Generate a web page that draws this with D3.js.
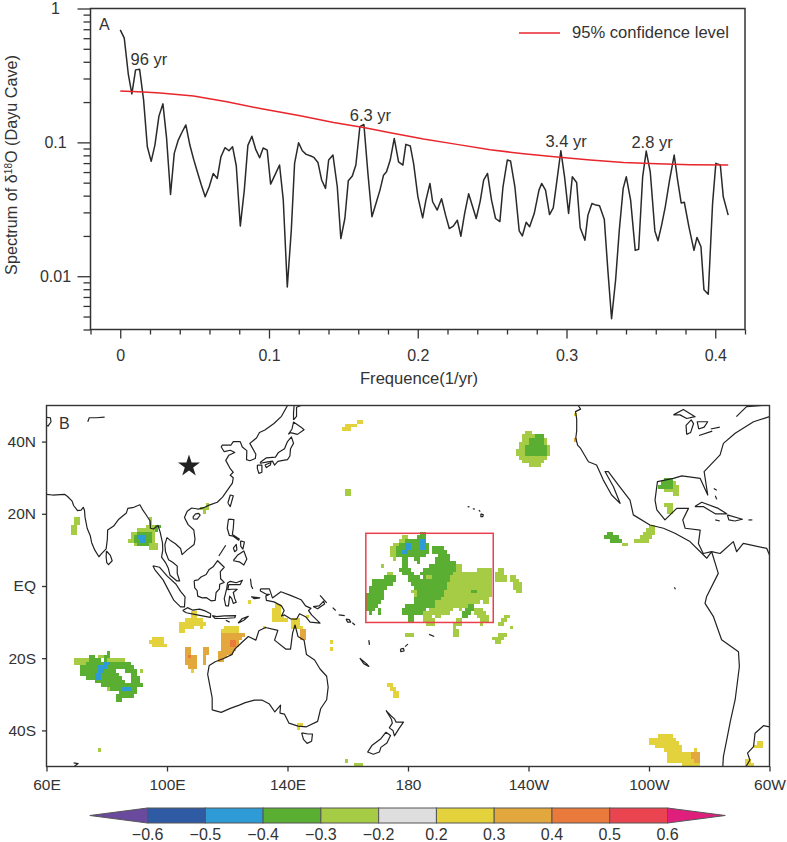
<!DOCTYPE html>
<html>
<head>
<meta charset="utf-8">
<script src="https://cdn.jsdelivr.net/npm/d3@7"></script>
<style>
  html, body { margin: 0; padding: 0; background: #fff; }
  text { font-family: "Liberation Sans", Arial, sans-serif; fill: #333; }
</style>
</head>
<body>
<svg id="chart" width="787" height="842"></svg>
<script>
// ---- panel A data ----
const freqs = [0,.0027,.0054,.0078,.0103,.0130,.0157,.0182,.0208,.0233,.0260,.0287,.0311,.0338,.0363,.0390,.0415,.0441,.0468,.0493,
  .0518,.0545,.0571,.0598,.0625,.0652,.0677,.0704,.0731,.0755,.0780,.0807,.0834,.0858,.0885,.0910,.0937,.0961,.0988,.1011,
  .1042,.1071,.1096,.1123,.1150,.1172,.1199,.1224,.1250,.1277,.1302,.1329,.1354,.1380,.1401,.1430,.1459,.1483,.1510,.1533,
  .1560,.1584,.1611,.1638,.1665,.1692,.1719,.1746,.1770,.1790,.1815,.1842,.1871,.1900,.1920,.1950,.1972,.2001,.2033,.2055,
  .2082,.2100,.2131,.2160,.2187,.2212,.2239,.2266,.2290,.2315,.2342,.2369,.2393,.2420,.2443,.2469,.2496,.2523,.2552,.2573,
  .2602,.2624,.2653,.2682,.2703,.2729,.2752,.2783,.2815,.2833,.2859,.2886,.2911,.2936,.2962,.2987,.3014,.3039,.3068,.3092,
  .3124,.3144,.3171,.3198,.3222,.3254,.3278,.3303,.3330,.3355,.3381,.3402,.3431,.3462,.3485,.3512,.3536,.3563,.3594,.3615,
  .3639,.3664,.3693,.3724,.3747,.3771,.3792,.3823,.3857,.3877,.3904,.3924,.3953,.3982,.4004,.4034,.4054,.4087];
const spectrum = [.692,.600,.324,.230,.348,.352,.207,.0928,.0721,.0955,.157,.194,.109,.0408,.0827,.104,.119,.135,.0955,.0750,
  .0603,.0480,.0392,.0466,.0586,.0538,.0781,.0912,.0866,.0928,.0669,.0237,.0440,.0950,.111,.0891,.0768,.0907,.0876,.0488,
  .0576,.0677,.0370,.00832,.0221,.0697,.0994,.0866,.0813,.0795,.0772,.0708,.0523,.0453,.0738,.0804,.0466,.0191,.0270,.0516,
  .0560,.0677,.131,.136,.0586,.0278,.0349,.0440,.0569,.0603,.0738,.107,.0716,.0677,.0966,.0939,.0697,.0392,.0273,.0370,
  .0493,.0360,.0312,.0379,.0286,.0227,.0237,.0262,.0199,.0294,.0413,.0330,.0270,.0364,.0523,.0586,.0370,.0270,.0256,.0466,
  .0738,.0725,.0466,.0218,.0200,.0253,.0234,.0294,.0440,.0493,.0440,.0289,.0324,.0523,.0866,.0553,.0294,.0553,.0502,.0230,
  .0186,.0286,.0349,.0340,.0336,.0267,.0111,.00482,.00933,.0221,.0453,.0553,.0370,.0156,.0159,.0553,.0861,.0603,.0218,.0184,
  .0240,.0330,.0523,.0804,.0523,.0353,.0357,.0234,.0156,.0195,.0166,.00794,.00733,.0349,.0697,.0677,.0392,.0286];
const confFreqs = [0,.0157,.0269,.0493,.0717,.0941,.1210,.1434,.1636,.1815,.2039,.2263,.2487,.2711,.2936,.3160,.3384,.3608,.3832,.4087];
const confLevel = [.242,.238,.234,.222,.201,.179,.158,.141,.129,.118,.106,.0966,.0881,.0822,.0776,.0738,.0708,.0692,.0681,.0677];

const freqMajor = [0, 0.1, 0.2, 0.3, 0.4];
const freqMinor = [-0.02,0.02,0.04,0.06,0.08,0.12,0.14,0.16,0.18,0.22,0.24,0.26,0.28,0.32,0.34,0.36,0.38,0.42];
const specMajor = [1, 0.1, 0.01];
const specMinor = [.9,.8,.7,.6,.5,.4,.3,.2,.09,.08,.07,.06,.05,.04,.03,.02,.009,.008,.007,.006,.005,.004];
const peakLabels = ["96 yr", "6.3 yr", "3.4 yr", "2.8 yr"];
const peakFreq = [.0193, .1682, .2997, .3575];
const peakPower = [.378, .144, .092, .0905];

// ---- panel B data: shaded cells as [top latitude, west lon, east lon], lon in degrees east ----
const lightCells = [
  [14,178,180],[13,177,180],[12,175,177],[11,174,176],[10,174,176],[9,174,176],[8,175,176],[6,171,172],[6,196,198],[5,196,198],[5,203,208],[5,210,212],
  [4,173,175],[4,195,208],[4,209,212],[3,186,188],[3,193,208],[3,209,213],[3,214,216],[2,192,208],[2,209,213],[2,214,217],[1,192,208],[1,215,218],
  [0,192,208],[0,215,218],[-1,181,183],[-1,192,208],[-1,216,218],[-2,182,183],[-2,192,208],[-3,191,207],[-4,189,204],[-4,205,207],[-5,188,197],[-5,197,202],
  [-6,187,195],[-6,197,198],[-6,202,205],[-7,185,194],[-7,202,206],[-8,185,188],[-8,189,191],[-8,203,207],[-8,212,214],[-9,185,189],[-9,196,198],[-9,204,207],[-9,211,213],
  [-10,186,189],[-10,195,198],[-10,204,205],[-10,210,212],[-11,195,196],[-11,214,215],[-12,195,197],[-13,195,197],[-13,179,182],[-13,210,213],[-14,208,212],[-15,209,211],
  [27,159,161],[26,159,161],
  [43,219,221],[42,218,225],[41,218,226],[40,217,226],[39,217,227],[38,216,227],[37,216,227],[36,217,226],[35,218,225],[34,220,224],
  [19,69,71],[18,69,71],[17,68,70],[16,68,70],[15,68,70],
  [19,94,95],[18,94,95],[17,93,98],[16,90,97],[15,88,96],[14,88,96],[13,87,96],[12,89,97],[11,94,97],
  [23,113,114],[22,111,114],[21,112,113],
  [-19,77,79],[-20,69,74],[-20,80,86],[-21,69,73],[-23,91,92],[-28,80,81],[-45,77,78],
  [-48,159,160],[-49,162,165],
  [29,268,269],[28,268,270],[27,265,270],[26,268,270],[23,265,268],[22,266,268],[21,266,268],
  [17,260,262],[16,259,262],[15,258,262],[14,257,261],[13,255,260],[12,251,253]
];
const greenCells = [
  [15,184,186],[14,183,186],[13,179,186],[12,177,187],[11,176,187],[11,188,192],[10,176,187],[10,188,193],[9,176,186],[9,190,194],
  [8,178,180],[8,182,184],[8,189,194],[7,178,180],[7,183,184],[7,189,196],[6,178,180],[6,187,196],[5,177,181],[5,185,196],
  [4,178,182],[4,184,195],[3,172,176],[3,180,184],[3,185,186],[3,188,194],[2,168,176],[2,180,194],[1,168,175],[1,181,193],
  [0,167,173],[0,182,193],[-1,167,172],[-1,183,192],[-1,201,203],[-2,166,172],[-2,183,192],[-3,166,172],[-3,182,191],[-4,166,171],[-4,182,189],
  [-5,166,170],[-5,179,189],[-5,200,202],[-6,166,169],[-6,170,171],[-6,178,186],[-6,199,202],[-7,167,168],[-7,170,171],[-7,178,185],[-7,198,201],[-8,180,182],[-8,198,200],[-9,180,182],
  [42,222,225],[41,220,225],[40,220,225],[39,219,226],[38,219,226],[37,219,226],
  [17,96,98],[16,96,97],[15,90,95],[14,89,95],[13,89,95],[12,90,94],
  [-18,80,81],[-19,74,76],[-19,79,81],[-20,74,78],[-20,79,80],[-21,73,88],[-22,71,89],[-23,71,83],[-23,86,90],[-24,71,84],[-24,88,90],
  [-25,73,85],[-25,88,91],[-26,76,86],[-26,88,91],[-27,78,92],[-28,81,90],[-29,84,90],[-30,83,89],[-31,83,85],
  [30,265,268],[29,264,268],[28,263,268],[15,246,248],[14,245,250],[13,247,251]
];
const blueCells = [
  [13,184,186],[12,179,181],[12,184,186],[11,179,181],[11,184,186],[10,178,180],
  [14,90,93],[13,91,93],
  [-21,79,81],[-22,77,80],[-23,77,79],[-24,76,78],[-25,76,78],[-28,85,88]
];
const yellowCells = [
  [46,163,165],[45,159,163],[44,158,161],
  [-14,95,99],[-15,94,99],[-16,95,100],[-23,108,109],
  [-7,108,110],[-8,108,110],[-9,106,112],[-10,104,113],[-11,104,109],[-11,111,112],[-12,104,106],
  [-11,119,124],[-12,118,124],
  [-5,136,138],[-6,135,138],[-7,135,138],[-8,135,139],[-9,135,140],
  [-9,141,144],[-10,141,144],[-11,141,145],
  [-15,154,155],[-17,154,155],[-4,127,128],[-11,132,133],[-8,146,147],
  [-27,173,175],[-28,174,176],[-29,175,177],[-30,175,177],[-38,143,145],[-39,143,144],
  [48,235,236],
  [-41,263,268],[-42,260,269],[-43,260,270],[-44,262,271],[-45,265,271],[-45,275,276],[-46,266,277],[-47,266,277],[-48,266,277],[-49,271,277],
  [-43,296,298],[-44,295,298],[-48,292,294],[-49,292,295]
];
const amberCells = [
  [-17,106,108],[-18,106,108],[-19,106,110],[-20,106,110],[-21,106,110],[-22,107,110],
  [-17,112,114],[-18,112,114],[-19,112,113],[-20,112,113],[-21,112,113],
  [-13,118,126],[-14,118,125],[-15,118,124],[-16,118,124],[-17,118,123],[-18,117,122],[-19,117,120],[-20,117,119],
  [-12,144,146],[-13,144,146],[-14,144,146],
  [41,235,236],[-46,274,277],[-47,274,277],[-48,275,277]
];
const orangeCells = [[-19,107,108],[-15,121,123],[-16,121,123]];

const boxLon = [166, 208.3];
const boxLat = [14.6, -10.1];
const starLon = 107.3;
const starLat = 33.2;

// coastlines traced as [lon, lat]
const coastLines = [
  // Asia
  [[60,25.4],[62,25.2],[66,25.4],[67,24.8],[68.5,23.5],[69,22.3],[70.3,20.9],[71.5,21],[72.2,21.8],[72.6,21],[72.8,19],[73.5,16],[74.5,14],[75,12],[76,10],[77.4,8.1],[78.2,8.9],[79.8,10.3],[80.2,13],[80.3,15.5],[82.3,16.6],[84,18.5],[86.5,20.2],[87,21.5],[89,21.8],[91,22.5],[92,21],[93,19.8],[94.4,18],[94.5,16],[95.5,15.8],[97,16.8],[97.7,15],[98.5,12],[98.6,10],[98.2,8],[99.5,6.5],[100.4,5],[101,3],[103.3,1.4],[104.2,1.4],[103.4,3.5],[103.4,5.5],[102,6.5],[100.5,7.3],[99.5,9.5],[99.3,11.5],[100,13.4],[101,12.7],[102.8,11.7],[104.5,10.4],[105,8.7],[106.7,10],[109,11.5],[109.3,13],[108.9,15.5],[107,17],[105.8,19],[106.7,20.7],[108.2,21.6],[109.7,21.4],[110.4,21.3],[112.5,21.8],[114,22.4],[116.7,23.2],[118.5,24.7],[120,26.5],[121.7,28.5],[122,30],[121,30.7],[122,31.5],[121,32.5],[119.5,34.8],[120.5,36.2],[122.5,37],[121,37.6],[119,37.2],[118,38.5],[118.3,39],[121.2,39],[122,40],[124.3,40],[125,38.5],[126.5,37.5],[126.4,35],[127.5,34.7],[129.3,35.3],[129.5,36.5],[127.5,39.5],[129.7,41],[130.7,42.5],[132.5,43.2],[135.5,45],[138,47],[140,50]],
  [[60,46.7],[61.3,46.6],[61.5,45.5],[60.5,44.3],[60,44.5]],
  [[73.7,45.5],[74.2,46.6],[76.5,46.6],[79.3,46.8]],
  [[79.9,9.7],[81.2,8.5],[81.8,7],[80.6,5.9],[80,6.5],[79.8,8],[79.9,9.7]],
  [[108.7,18.6],[110,18.5],[111,19.6],[110.5,20.1],[109.5,20],[108.7,19.2],[108.7,18.6]],
  [[120.2,23],[121,25.2],[122,25],[121,22],[120.2,23]],
  // Japan, Sakhalin
  [[131,34.3],[133,35.5],[136,35.7],[137,37],[139,38],[140,40],[141.3,41.3],[142,39.5],[141,38],[140.8,36],[140,35],[138.5,34.8],[136.8,34.5],[135.7,33.5],[135,34.6],[133,34.3],[131,34],[131,34.3]],
  [[130,33.5],[131.5,33.5],[131.5,31.5],[130.5,31.2],[130,32.5],[130,33.5]],
  [[132.5,33.5],[134.5,34.2],[134.3,33.5],[133,32.8],[132.5,33.5]],
  [[140.3,42],[141.5,43.5],[142,45.4],[144.5,44],[145.5,43.3],[143.3,42],[141,42.5],[140.3,42]],
  [[142,46],[143,47],[143,49.5],[144.5,50],[142.2,50],[142,48],[142,46]],
  // Indonesia, Philippines
  [[95.3,5.6],[97.5,5.2],[100,2.8],[103,0.5],[104.5,-1.5],[106,-3],[105.8,-5.8],[104.5,-5.8],[102.3,-4],[100.4,-1],[98.7,1.7],[96,4.5],[95.3,5.6]],
  [[105.2,-6.8],[106.8,-6],[108.6,-6.7],[110.8,-6.4],[112.7,-6.9],[114.5,-7.7],[114.4,-8.7],[110,-8],[106.4,-7.4],[105.2,-6.8]],
  [[115,-8.2],[116.5,-8.5],[119,-8.3],[122.8,-8.2],[122.5,-8.8],[119,-9],[116,-9],[115,-8.2]],
  [[123.6,-10.3],[125,-9],[127,-8.4],[125.5,-9.5],[123.6,-10.3]],
  [[119.5,-9.5],[120.8,-10]],
  [[109,1.5],[110.3,1.7],[111.3,2.5],[113,3.2],[114,4.6],[115.3,5.3],[116.8,7],[119,5.2],[117.7,4],[117.8,2],[119,1],[117.5,0.5],[117.4,-0.8],[116.3,-1.8],[116,-4],[114.6,-4.1],[113,-3.2],[111.7,-3.3],[110.2,-2.8],[110,-1.3],[109.2,-0.5],[109,1.5]],
  [[119.5,-5.5],[119,-3.5],[119.8,-0.8],[120.1,0.8],[121,1.3],[123,0.9],[125,1.6],[124.3,0.4],[120.5,0.4],[120.2,-1],[121.5,-0.9],[123.3,-0.9],[122,-1.8],[122.5,-3.5],[123,-4.5],[122,-4.8],[121.5,-3.5],[120.8,-2.8],[120.4,-5.5],[119.5,-5.5]],
  [[120.4,18.5],[122.2,18.4],[122,16],[121.7,14.3],[124,13],[123.8,12.7],[122,13.8],[120.7,14],[120,16],[120.4,18.5]],
  [[122,7],[123.5,8.6],[125.5,9.7],[126.5,7.5],[125.5,5.8],[124,6.7],[122,7]],
  [[122,10.5],[123,11.5],[123.2,10],[122.5,9.5],[122,10.5]],
  [[124.4,12.5],[125.7,12.2],[125.2,10.2],[124.5,11],[124.4,12.5]],
  [[117.2,8.3],[119.5,11.3]],
  [[127.7,2],[128,0],[128.5,-0.8]],
  [[128,-3],[130.8,-3.3],[129,-3.5],[128,-3]],
  // New Guinea and the Pacific islands
  [[131,-0.8],[134,-0.8],[135,-3.3],[137.8,-1.6],[141,-2.6],[144.5,-3.8],[146,-5.5],[147.8,-6.2],[147,-6.8],[148,-8],[150.8,-10.3],[147.5,-10],[146,-8.5],[144,-7.7],[143,-9.2],[141,-9.1],[139,-8],[138,-8.3],[138.9,-6.8],[138,-5.5],[135.5,-4.4],[133,-4],[132.8,-2.8],[134,-2.3],[133,-2.3],[131,-1.4],[131,-0.8]],
  [[148.5,-5.7],[150.5,-5.5],[152,-4.2],[152.3,-5],[150,-6.3],[148.5,-5.7]],
  [[150.8,-2.6],[153,-4.7]],
  [[155,-6],[156,-6.8]],[[157,-8],[159,-8.2]],
  [[159.4,-9.2],[160.5,-9.3],[161,-10],[160,-10],[159.4,-9.2]],[[161.5,-10.2],[162.4,-10.8]],
  [[167,-15],[167.2,-16.3]],
  [[164,-20],[166.2,-21.5],[167,-22.3],[165.3,-21.5],[164,-20]],
  [[177.5,-17.5],[178.5,-17.3],[178.7,-18],[177.6,-18.2],[177.5,-17.5]],[[179,-16.8],[180,-16.1]],
  [[187,-13.4],[188.7,-14]],
  [[199.8,22],[200.4,21.9]],[[201.5,21.4],[202.2,21.3]],[[203.5,21],[204,20.6]],[[204.2,20],[205,19.7],[204.8,19.2],[204.2,19.2],[204.2,20]],
  // Australia, New Zealand
  [[114,-22],[113.5,-24.5],[115,-31],[115,-34.3],[118,-35],[121,-33.9],[124,-33],[126,-32.3],[129,-31.6],[131.5,-31.6],[134,-32.7],[135.8,-34.9],[137.7,-33],[137.5,-35.2],[139,-35.5],[140.5,-38],[143.5,-38.8],[146.3,-39],[150,-37.5],[151,-34],[153,-31.5],[153.5,-28],[153,-25],[150.8,-23],[149,-20.5],[146.3,-19],[145.5,-15],[143.5,-14],[142.5,-10.8],[141.7,-13],[141,-17.5],[139.5,-17.5],[135.7,-15],[136.8,-12.3],[132.7,-11.5],[130.5,-12.4],[129.5,-15],[127,-14],[125,-15.5],[122.5,-17.5],[121.5,-19],[119,-20],[116,-21],[114,-22]],
  [[144.7,-40.7],[146.8,-41],[148.3,-41],[148,-43],[146.5,-43.6],[145.3,-42.5],[144.7,-40.7]],
  [[172.7,-34.5],[174.4,-36],[175.5,-36.8],[176,-37.7],[178.5,-37.7],[177,-39.5],[175.5,-41.5],[175,-40],[173.8,-39.3],[174.8,-38],[174.5,-36.9],[172.7,-34.5]],
  [[172.7,-40.5],[174.2,-41.4],[173,-43.5],[171,-44.7],[170.5,-46],[168.5,-46.6],[166.6,-46],[168,-44.2],[171,-42.3],[172.7,-40.5]],
  [[69,-49],[70.5,-49.2],[69.5,-49.8],[69.2,-50]],
  // Americas
  [[236.5,50],[237.3,49],[235.6,48.3],[236,46.2],[236,43],[235.7,41],[236.3,39],[237.3,38.1],[239.9,34.4],[242.6,33.5],[244.8,29.4],[247.6,25.2],[250.4,22.9],[248.2,27.5],[245.4,31.7],[246.5,31.7],[249.8,28],[253.7,23.8],[254.8,19.7],[260.3,16.9],[264.8,16],[268.6,14.6],[273.6,12.3],[279.2,7.7],[280.8,9.5],[283,3.5],[279.1,-3],[278.6,-4.8],[281.4,-8.5],[284.1,-14.9],[289.7,-18.2],[290,-22.3],[288.6,-31.5],[287,-37.5],[285.8,-42.6],[284.7,-47.2],[284.5,-50]],
  [[300,-39],[298,-38.7],[295.2,-40.8],[294.7,-44.5],[292.7,-46.3],[293.5,-48.2],[292.2,-50]],
  [[280.8,9.5],[278,9],[276.4,11.8],[277,15.5],[272,16],[271.2,18.3],[273.1,21.5],[269.2,21.5],[265.3,18.3],[262.6,21.1],[262,23.8],[262.8,28.9],[268.1,29.8],[270.9,30.5],[277,29.8],[279.5,25.2],[278.3,31.7],[283.6,36.3],[284.7,39.5],[288.6,42.3],[294.7,45.5],[300,46.9]],
  [[289,46.9],[292.4,49.7],[297.7,50]],
  [[280.8,9.5],[283.6,9],[288,12.3],[289.1,9.5],[291.3,11.8],[299.1,10.4],[300,8.6]],
  [[268.1,47.4],[271.4,48.9],[275.3,46.9],[272.5,46.4],[270.3,47.4],[268.1,47.4]],
  [[272.5,42],[272.3,44.5],[274,46],[274.8,45],[273.8,42.5],[272.5,42]],
  [[276.5,43.5],[276,45.5],[279.5,45.5],[278.3,44],[276.5,43.5]],
  [[276.6,41.7],[281,42.9]],[[280.5,43.5],[283.5,44]],
  [[275.2,22],[277.5,23.2],[283,21.5],[285.8,20],[282,20],[278,22],[275.2,22]],
  [[286,19.7],[291,18.5],[288.5,18],[286.5,18.3],[286,19.7]],
  [[282,18.3],[283.5,18]],[[293,18.3],[294.3,18.3]],
  [[281.5,27],[282.5,26.5]],[[282,25],[282.5,24]],[[268.4,-0.4],[268.8,-0.9]]
];

const lonTicks = [60, 100, 140, 180, 220, 260, 300];
const lonLabels = ["60E", "100E", "140E", "180", "140W", "100W", "60W"];
const latTicks = [40, 20, 0, -20, -40];
const latLabels = ["40N", "20N", "EQ", "20S", "40S"];

// ---- colour bar ----
const breaks = [-0.6, -0.5, -0.4, -0.3, -0.2, 0.2, 0.3, 0.4, 0.5, 0.6];
const barColors = ["#2f5aa4", "#2e9ad6", "#5aaf32", "#a6cc46", "#dedede", "#e3d23c", "#e2a83e", "#ea7a3c", "#ea4450"];
const lowColor = "#6a4a9c";
const highColor = "#e01f7d";

const svg = d3.select("#chart");
const darkLine = "#333";

// ===== panel A =====
const xA = d3.scaleLinear().domain([-0.02, 0.42]).range([90.5, 745]);
const yA = d3.scaleLog().domain([0.004, 1]).range([329.5, 8.5]);

const pA = svg.append("g");
const line = d3.line().x(d => xA(d[0])).y(d => yA(d[1]));

pA.append("path")
  .datum(d3.zip(freqs, spectrum))
  .attr("d", line)
  .attr("fill", "none")
  .attr("stroke", "#2a2a2a")
  .attr("stroke-width", 1.5)
  .attr("stroke-linejoin", "round");

pA.append("path")
  .datum(d3.zip(confFreqs, confLevel))
  .attr("d", line)
  .attr("fill", "none")
  .attr("stroke", "#e8262c")
  .attr("stroke-width", 1.5);

pA.append("rect")
  .attr("x", xA.range()[0]).attr("y", yA.range()[1])
  .attr("width", xA.range()[1] - xA.range()[0])
  .attr("height", yA.range()[0] - yA.range()[1])
  .attr("fill", "none").attr("stroke", darkLine).attr("stroke-width", 1.5);

function styleAxis(g, size) {
  g.select(".domain").remove();
  g.selectAll("line").attr("stroke", darkLine).attr("stroke-width", 1.3);
  g.selectAll("text").attr("fill", "#333").style("font-size", (size || 16) + "px").attr("font-family", null);
}

pA.append("g").attr("transform", `translate(0,${yA.range()[0]})`)
  .call(d3.axisBottom(xA).tickValues(freqMinor).tickSize(5).tickFormat(""))
  .call(styleAxis);
pA.append("g").attr("transform", `translate(0,${yA.range()[0]})`)
  .call(d3.axisBottom(xA).tickValues(freqMajor).tickSize(9).tickPadding(11).tickFormat(d => d === 0 ? "0" : d3.format(".1f")(d)))
  .call(styleAxis);
pA.append("g").attr("transform", `translate(${xA.range()[0]},0)`)
  .call(d3.axisLeft(yA).tickValues(specMinor).tickSize(7).tickFormat(""))
  .call(styleAxis);
pA.append("g").attr("transform", `translate(${xA.range()[0]},0)`)
  .call(d3.axisLeft(yA).tickValues(specMajor).tickSize(13).tickFormat(d => String(d)))
  .call(styleAxis)
  .call(g => g.selectAll("text").attr("text-anchor", "middle").attr("x", -35));

pA.append("text").attr("x", 99).attr("y", 30).style("font-size", "16px").text("A");

pA.selectAll(".peak")
  .data(peakLabels)
  .enter()
  .append("text")
  .attr("class", "peak")
  .attr("x", (d, i) => xA(peakFreq[i]))
  .attr("y", (d, i) => yA(peakPower[i]))
  .attr("text-anchor", "middle")
  .style("font-size", "16.5px")
  .text(d => d);

pA.append("line")
  .attr("x1", 519).attr("x2", 560).attr("y1", 33).attr("y2", 33)
  .attr("stroke", "#e8262c").attr("stroke-width", 1.5);
pA.append("text").attr("x", 572).attr("y", 37.5).style("font-size", "16.6px").text("95% confidence level");

pA.append("text").attr("x", 419).attr("y", 384).attr("text-anchor", "middle").style("font-size", "16.6px").text("Frequence(1/yr)");

const yTitle = pA.append("text")
  .attr("transform", "translate(16.5,165) rotate(-90)")
  .attr("text-anchor", "middle")
  .style("font-size", "16.2px");
yTitle.append("tspan").text("Spectrum of δ");
yTitle.append("tspan").attr("dy", -5).style("font-size", "10px").text("18");
yTitle.append("tspan").attr("dy", 5).text("O (Dayu Cave)");

// ===== panel B =====
const xB = d3.scaleLinear().domain([60, 300]).range([46.5, 769.5]);
const yB = d3.scaleLinear().domain([-50, 50]).range([766.5, 405.5]);

svg.append("defs").append("clipPath").attr("id", "mapClip")
  .append("rect")
  .attr("x", xB(60)).attr("y", yB(50))
  .attr("width", xB(300) - xB(60))
  .attr("height", yB(-50) - yB(50));

const map = svg.append("g");
const cellsG = map.append("g").attr("clip-path", "url(#mapClip)").attr("shape-rendering", "crispEdges");

function drawCells(cells, color) {
  cellsG.append("g")
    .selectAll("rect")
    .data(cells)
    .enter()
    .append("rect")
    .attr("x", d => xB(d[1]))
    .attr("y", d => yB(d[0]))
    .attr("width", d => xB(d[2]) - xB(d[1]))
    .attr("height", d => yB(d[0] - 1) - yB(d[0]))
    .attr("fill", color);
}
drawCells(lightCells, barColors[3]);
drawCells(yellowCells, barColors[5]);
drawCells(amberCells, barColors[6]);
drawCells(orangeCells, barColors[7]);
drawCells(greenCells, barColors[2]);
drawCells(blueCells, barColors[1]);

const coastPath = d3.line().x(d => xB(d[0])).y(d => yB(d[1]));
map.append("g").attr("clip-path", "url(#mapClip)")
  .selectAll("path")
  .data(coastLines)
  .enter()
  .append("path")
  .attr("d", coastPath)
  .attr("fill", "none")
  .attr("stroke", "#222")
  .attr("stroke-width", 1.2)
  .attr("stroke-linejoin", "round");

map.append("rect")
  .attr("x", xB(boxLon[0])).attr("y", yB(boxLat[0]))
  .attr("width", xB(boxLon[1]) - xB(boxLon[0]))
  .attr("height", yB(boxLat[1]) - yB(boxLat[0]))
  .attr("fill", "none").attr("stroke", "#e8404c").attr("stroke-width", 1.5);

map.append("path")
  .attr("d", d3.symbol(d3.symbolStar, 150)())
  .attr("transform", `translate(${xB(starLon)},${yB(starLat)})`)
  .attr("fill", "#222");

map.append("rect")
  .attr("x", xB(60)).attr("y", yB(50))
  .attr("width", xB(300) - xB(60))
  .attr("height", yB(-50) - yB(50))
  .attr("fill", "none").attr("stroke", darkLine).attr("stroke-width", 1.4);

map.append("text").attr("x", 59).attr("y", 429).style("font-size", "16px").text("B");

map.append("g").attr("transform", `translate(0,${yB(-50)})`)
  .call(d3.axisBottom(xB).tickValues(lonTicks).tickSize(5).tickPadding(7).tickFormat((d, i) => lonLabels[i]))
  .call(styleAxis, 15.5);
map.append("g").attr("transform", `translate(${xB(60)},0)`)
  .call(d3.axisLeft(yB).tickValues(latTicks).tickSize(4.5).tickPadding(6).tickFormat((d, i) => latLabels[i]))
  .call(styleAxis, 15.5);

// ===== colour bar =====
const xBar = d3.scalePoint().domain(d3.range(breaks.length)).range([147.6, 667.5]);
const barTop = 808;
const barBottom = 823;
const bar = svg.append("g");
const step = xBar.step();

bar.selectAll("rect")
  .data(barColors)
  .enter()
  .append("rect")
  .attr("x", (d, i) => xBar(i))
  .attr("y", barTop)
  .attr("width", step)
  .attr("height", barBottom - barTop)
  .attr("fill", d => d)
  .attr("stroke", "#555")
  .attr("stroke-width", 1);

const tri = d3.line();
bar.append("path")
  .attr("d", tri([[xBar(0), barTop], [xBar(0) - step, (barTop + barBottom) / 2], [xBar(0), barBottom]]) + "Z")
  .attr("fill", lowColor).attr("stroke", "#555");
const lastX = xBar(breaks.length - 1);
bar.append("path")
  .attr("d", tri([[lastX, barTop], [lastX + step, (barTop + barBottom) / 2], [lastX, barBottom]]) + "Z")
  .attr("fill", highColor).attr("stroke", "#555");

bar.selectAll("text")
  .data(breaks)
  .enter()
  .append("text")
  .attr("x", (d, i) => xBar(i))
  .attr("y", 840)
  .attr("text-anchor", "middle")
  .style("font-size", "16px")
  .text(d => (d < 0 ? "−" : "") + Math.abs(d).toFixed(1));
</script>
</body>
</html>
